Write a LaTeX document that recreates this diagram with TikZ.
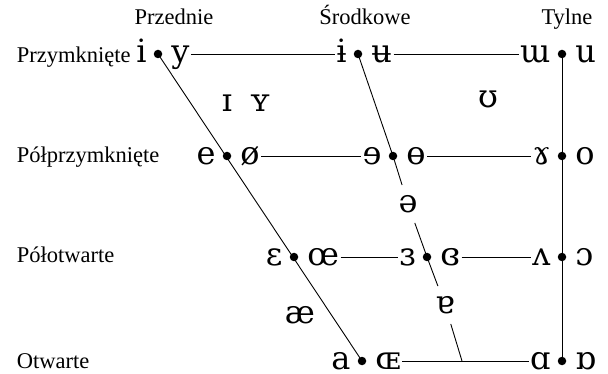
\documentclass[tikz,border=0pt]{standalone}
\usepackage{fontspec}
\setmainfont{Liberation Serif}
\newfontfamily\ipafont{DejaVu Serif}

\begin{document}
\begin{tikzpicture}[
    x=1pt, y=-1pt,
    line width=0.9pt,
    dot/.style={circle, fill=black, inner sep=0pt, minimum size=8.5pt},
    vowel/.style={font=\ipafont\fontsize{32}{32}\selectfont, inner sep=1pt,
        text height=17pt, text depth=0pt},
    gap vowel/.style={vowel, inner xsep=4pt, inner ysep=10pt},
    heading/.style={font=\fontsize{22.5}{24}\selectfont, anchor=base}
]
    \useasboundingbox (0,0) rectangle (608,374);

    % Headings
    \node[heading] (front) at (174,25) {Przednie};
    \node[heading] (central) at (365,25) {Środkowe};
    \node[heading] (back) at (567,25) {Tylne};

    \node[heading, anchor=base west] (close) at (13,63) {Przymknięte};
    \node[heading, anchor=base west] (closemid) at (13,163) {Półprzymknięte};
    \node[heading, anchor=base west] (openmid) at (13,263) {Półotwarte};
    \node[heading, anchor=base west] (open) at (13,368) {Otwarte};

    % Coordinates
    \coordinate (cf) at (158,54);
    \coordinate (cc) at (358,54);
    \coordinate (cb) at (562,54);
    \coordinate (cmf) at (227,156);
    \coordinate (cmc) at (393,156);
    \coordinate (cmb) at (562,156);
    \coordinate (omf) at (294,257);
    \coordinate (omc) at (427,257);
    \coordinate (omb) at (562,257);
    \coordinate (of) at (362,361);
    \coordinate (oc) at (462,361);
    \coordinate (ob) at (562,361);

    % Vowel pairs
    \node[vowel, anchor=east] (i) at ([xshift=-10pt]cf) {i};
    \node[vowel, anchor=west] (y) at ([xshift=12pt]cf) {y};
    \node[vowel, anchor=east] (ibar) at ([xshift=-10pt]cc) {ɨ};
    \node[vowel, anchor=west] (ubar) at ([xshift=12pt]cc) {ʉ};
    \node[vowel, anchor=east] (turnedm) at ([xshift=-10pt]cb) {ɯ};
    \node[vowel, anchor=west] (u) at ([xshift=12pt]cb) {u};

    \node[vowel, anchor=east] (e) at ([xshift=-10pt]cmf) {e};
    \node[vowel, anchor=west] (oslash) at ([xshift=12pt]cmf) {ø};
    \node[vowel, anchor=east] (reve) at ([xshift=-10pt]cmc) {ɘ};
    \node[vowel, anchor=west] (barredo) at ([xshift=12pt]cmc) {ɵ};
    \node[vowel, anchor=east] (ramshorn) at ([xshift=-10pt]cmb) {ɤ};
    \node[vowel, anchor=west] (o) at ([xshift=12pt]cmb) {o};

    \node[vowel, anchor=east] (epsilon) at ([xshift=-10pt]omf) {ɛ};
    \node[vowel, anchor=west] (oelig) at ([xshift=12pt]omf) {œ};
    \node[vowel, anchor=east] (revepsilon) at ([xshift=-10pt]omc) {ɜ};
    \node[vowel, anchor=west] (closedrevepsilon) at ([xshift=12pt]omc) {ɞ};
    \node[vowel, anchor=east] (turnedv) at ([xshift=-10pt]omb) {ʌ};
    \node[vowel, anchor=west] (openo) at ([xshift=12pt]omb) {ɔ};

    \node[vowel, anchor=east] (a) at ([xshift=-10pt]of) {a};
    \node[vowel, anchor=west] (OElig) at ([xshift=12pt]of) {ɶ};
    \node[vowel, anchor=east] (scripta) at ([xshift=-10pt]ob) {ɑ};
    \node[vowel, anchor=west] (turnedscripta) at ([xshift=12pt]ob) {ɒ};

    % Lone vowels
    \node[vowel] (smalli) at (227,103) {ɪ};
    \node[vowel] (smally) at (260,103) {ʏ};
    \node[vowel] (upsilon) at (488,99) {ʊ};
    \node[gap vowel] (schwa) at (408,204) {ə};
    \node[vowel] (ash) at (300,315) {æ};
    \node[gap vowel] (turneda) at (445,305) {ɐ};

    % Trapezium
    \draw (cf) -- (of);
    \draw (cb) -- (ob);
    \draw (cc) -- (cmc) -- (schwa) -- (omc) -- (turneda) -- (oc);

    \draw (y) -- (ibar);
    \draw (ubar) -- (turnedm);
    \draw (oslash) -- (reve);
    \draw (barredo) -- (ramshorn);
    \draw (oelig) -- (revepsilon);
    \draw (closedrevepsilon) -- (turnedv);
    \draw (OElig) -- (scripta);

    % Dots
    \foreach \p in {cf, cc, cb, cmf, cmc, cmb, omf, omc, omb, of, ob}
        \node[dot] at (\p) {};

\end{tikzpicture}
\end{document}
